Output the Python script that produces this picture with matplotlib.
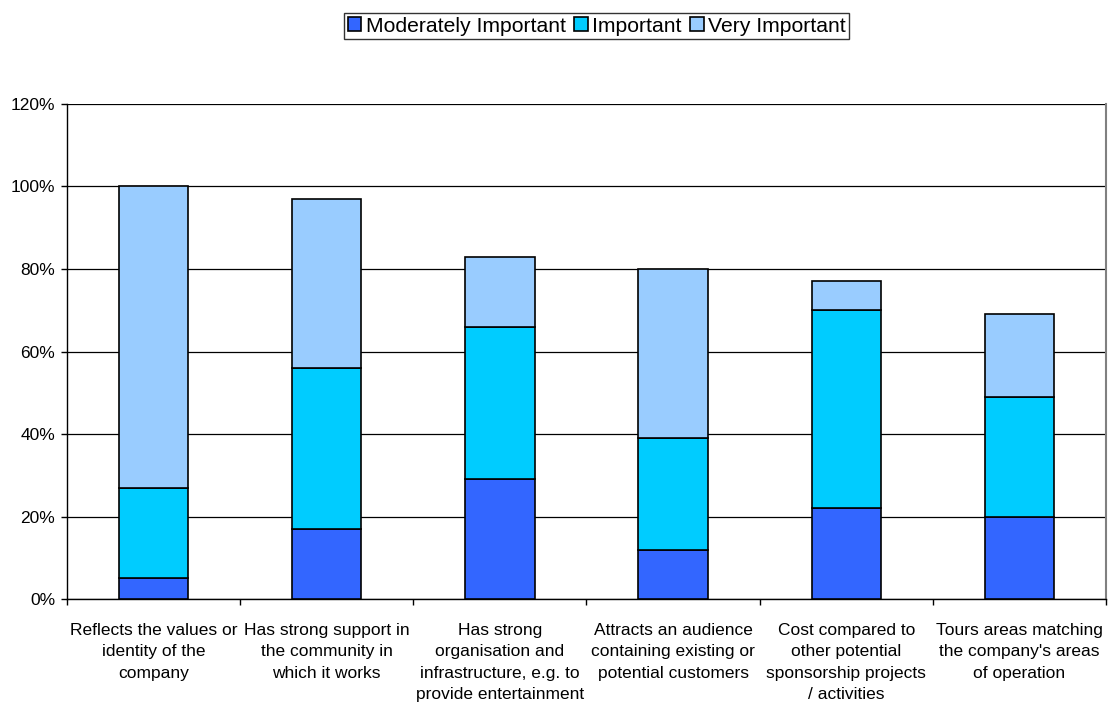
import matplotlib
matplotlib.use("Agg")
import matplotlib.pyplot as plt
import numpy as np

plt.rcParams['font.family'] = ['Liberation Sans', 'DejaVu Sans']

# survey responses, percent of companies per importance level
categories = [
    "Reflects the values or\nidentity of the\ncompany",
    "Has strong support in\nthe community in\nwhich it works",
    "Has strong\norganisation and\ninfrastructure, e.g. to\nprovide entertainment",
    "Attracts an audience\ncontaining existing or\npotential customers",
    "Cost compared to\nother potential\nsponsorship projects\n/ activities",
    "Tours areas matching\nthe company's areas\nof operation",
]
moderately_important = [5, 17, 29, 12, 22, 20]
important = [22, 39, 37, 27, 48, 29]
very_important = [73, 41, 17, 41, 7, 20]

series = [
    ("Moderately Important", moderately_important, "#3366FF"),
    ("Important", important, "#00CCFF"),
    ("Very Important", very_important, "#99CCFF"),
]

fig = plt.figure(figsize=(11.09, 7.04), dpi=100)
ax = fig.add_axes([0.0604, 0.1491, 0.9369, 0.7032])

x = np.arange(len(categories))
bottom = np.zeros(len(categories))
for name, vals, color in series:
    ax.bar(x, vals, 0.4, bottom=bottom, color=color, edgecolor="black",
           linewidth=1.2, label=name, zorder=3)
    bottom += np.array(vals)

ax.set_xlim(-0.5, len(categories) - 0.5)
ax.set_ylim(0, 120)
ax.set_yticks(np.arange(0, 121, 20))
ax.set_yticklabels([f"{v}%" for v in range(0, 121, 20)], fontsize=12.5)
ax.yaxis.grid(True, color="black", linewidth=0.9, zorder=0)

ax.set_xticks(np.arange(len(categories) + 1) - 0.5, minor=False)
ax.set_xticklabels([])
ax.set_xticks(x, minor=True)
labels = ax.set_xticklabels(categories, minor=True, fontsize=12.5)
for lbl in labels:
    lbl.set_linespacing(1.55)
ax.tick_params(axis="x", which="minor", length=0, pad=17)
ax.tick_params(axis="x", which="major", length=4.3, width=1, direction="out")
ax.tick_params(axis="y", length=4.3, width=1, direction="out", pad=4.3)

ax.spines["top"].set_visible(False)
ax.spines["right"].set_color("#808080")
ax.spines["right"].set_linewidth(1.5)
ax.spines["left"].set_linewidth(1)
ax.spines["bottom"].set_linewidth(1)

fig.legend(loc="center", bbox_to_anchor=(0.538, 0.963), ncol=3, fontsize=15.2,
           frameon=True, fancybox=False, edgecolor="black", handlelength=0.65,
           handleheight=0.65, handletextpad=0.2, columnspacing=0.4,
           borderpad=0.15, borderaxespad=0)

fig.savefig("out.png", dpi=100)
